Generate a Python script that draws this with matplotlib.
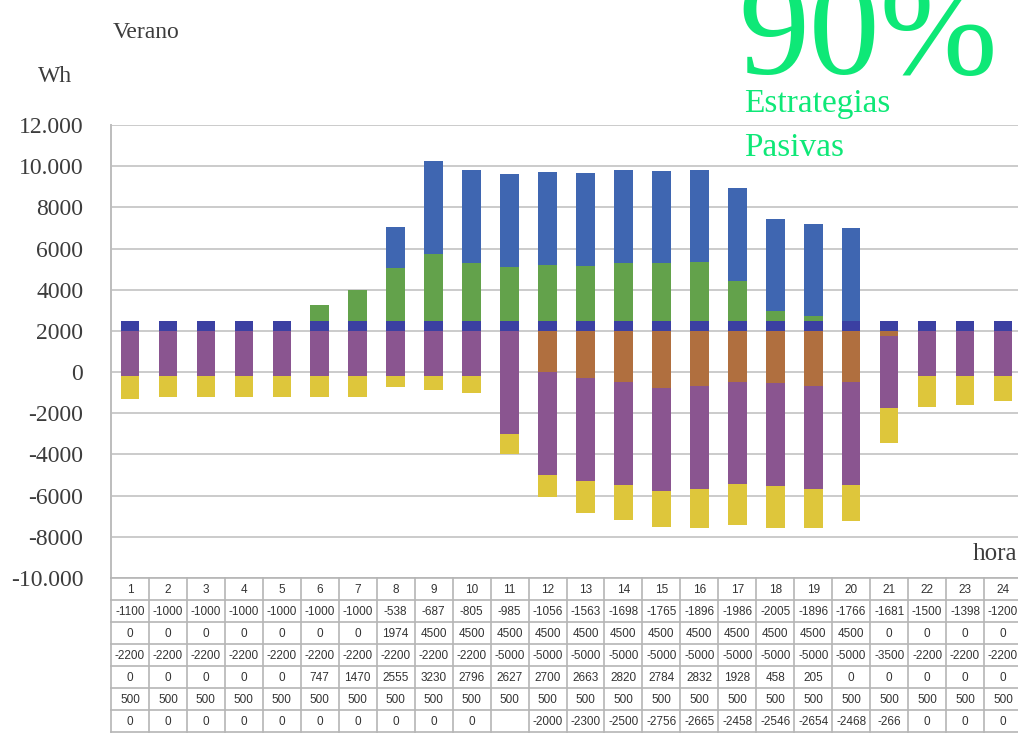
import matplotlib.pyplot as plt
from matplotlib.ticker import FuncFormatter

# hours of the day
horas = list(range(1, 25))

# table rows (Wh), same order as in the table under the chart
fila1 = [-1100, -1000, -1000, -1000, -1000, -1000, -1000, -538, -687, -805, -985, -1056,
         -1563, -1698, -1765, -1896, -1986, -2005, -1896, -1766, -1681, -1500, -1398, -1200]
fila2 = [0, 0, 0, 0, 0, 0, 0, 1974, 4500, 4500, 4500, 4500,
         4500, 4500, 4500, 4500, 4500, 4500, 4500, 4500, 0, 0, 0, 0]
fila3 = [-2200, -2200, -2200, -2200, -2200, -2200, -2200, -2200, -2200, -2200, -5000, -5000,
         -5000, -5000, -5000, -5000, -5000, -5000, -5000, -5000, -3500, -2200, -2200, -2200]
fila4 = [0, 0, 0, 0, 0, 747, 1470, 2555, 3230, 2796, 2627, 2700,
         2663, 2820, 2784, 2832, 1928, 458, 205, 0, 0, 0, 0, 0]
fila5 = [500] * 24
fila6 = [0, 0, 0, 0, 0, 0, 0, 0, 0, 0, None, -2000,
         -2300, -2500, -2756, -2665, -2458, -2546, -2654, -2468, -266, 0, 0, 0]

base = 2000  # the stacks start from this level in the original chart

c_navy = '#3b40a2'
c_green = '#63a24b'
c_blue = '#3f66b1'
c_orange = '#b06f3f'
c_purple = '#8a5590'
c_yellow = '#dec63b'

serif = 'Liberation Serif'
gris = '#3c3c3c'

fig = plt.figure(figsize=(10.18, 7.35), dpi=100)
W, H = 1018, 735
ax = fig.add_axes([111 / W, 1 - 578 / H, 911 / W, 453 / H])

f6 = [v if v is not None else 0 for v in fila6]
w = 0.49

# positive part
ax.bar(horas, fila5, w, bottom=base, color=c_navy, zorder=3)
ax.bar(horas, fila4, w, bottom=[base + a for a in fila5], color=c_green, zorder=3)
ax.bar(horas, fila2, w, bottom=[base + a + b for a, b in zip(fila5, fila4)], color=c_blue, zorder=3)

# negative part
ax.bar(horas, f6, w, bottom=base, color=c_orange, zorder=3)
ax.bar(horas, fila3, w, bottom=[base + a for a in f6], color=c_purple, zorder=3)
ax.bar(horas, fila1, w, bottom=[base + a + b for a, b in zip(f6, fila3)], color=c_yellow, zorder=3)

ax.set_xlim(0.5, 24.5)
ax.set_ylim(-10000, 12000)
ax.set_yticks(range(-10000, 12001, 2000))


def fmt(v, pos):
    v = int(round(v))
    if abs(v) >= 10000:
        return f'{v:,}'.replace(',', '.')
    return str(v)


ax.yaxis.set_major_formatter(FuncFormatter(fmt))
ax.grid(axis='y', color='#cbcbcb', lw=1.4, zorder=0)
ax.set_xticks([])
ax.tick_params(axis='y', length=0, pad=20, labelsize=17, labelcolor=gris)
for lab in ax.get_yticklabels():
    lab.set_family(serif)
for s in ['top', 'right', 'bottom']:
    ax.spines[s].set_visible(False)
ax.spines['left'].set_color('#bdbdbd')
ax.spines['left'].set_linewidth(1.4)

ax.text(0.995, 0.04, 'hora', transform=ax.transAxes, ha='right', va='baseline',
        fontsize=18, family=serif, color=gris)

# titles
fig.text(113 / W, 1 - 32 / H, 'Verano', fontsize=17, family=serif, color=gris, va='center')
fig.text(38 / W, 1 - 77 / H, 'Wh', fontsize=17, family=serif, color=gris, va='center')
verde = '#0ee877'
fig.text(738 / W, 1 - 74 / H, '90%', fontsize=102, family=serif, color=verde, va='baseline')
fig.text(744 / W, 1 - 112 / H, 'Estrategias', fontsize=24, family=serif, color=verde, va='baseline')
fig.text(744 / W, 1 - 156 / H, 'Pasivas', fontsize=24, family=serif, color=verde, va='baseline')

# data table under the chart
tab = fig.add_axes([111 / W, 1 - 732 / H, 911 / W, 154 / H])
tab.set_xlim(0.5, 24.5)
tab.set_ylim(7, 0)
tab.axis('off')
filas = [horas, fila1, fila2, fila3, fila4, fila5, fila6]
for r, fila in enumerate(filas):
    for h, v in zip(horas, fila):
        txt = '' if v is None else str(v)
        tab.text(h, r + 0.55, txt, ha='center', va='center', fontsize=8.5,
                 family='Liberation Sans', color='#333333')
for r in range(8):
    tab.plot([0.5, 24.5], [r, r], color='#b5b5b5', lw=1.2, clip_on=False)
for k in range(25):
    tab.plot([k + 0.5, k + 0.5], [0, 7], color='#b5b5b5', lw=1.2, clip_on=False)

fig.savefig('out.png', dpi=100)
